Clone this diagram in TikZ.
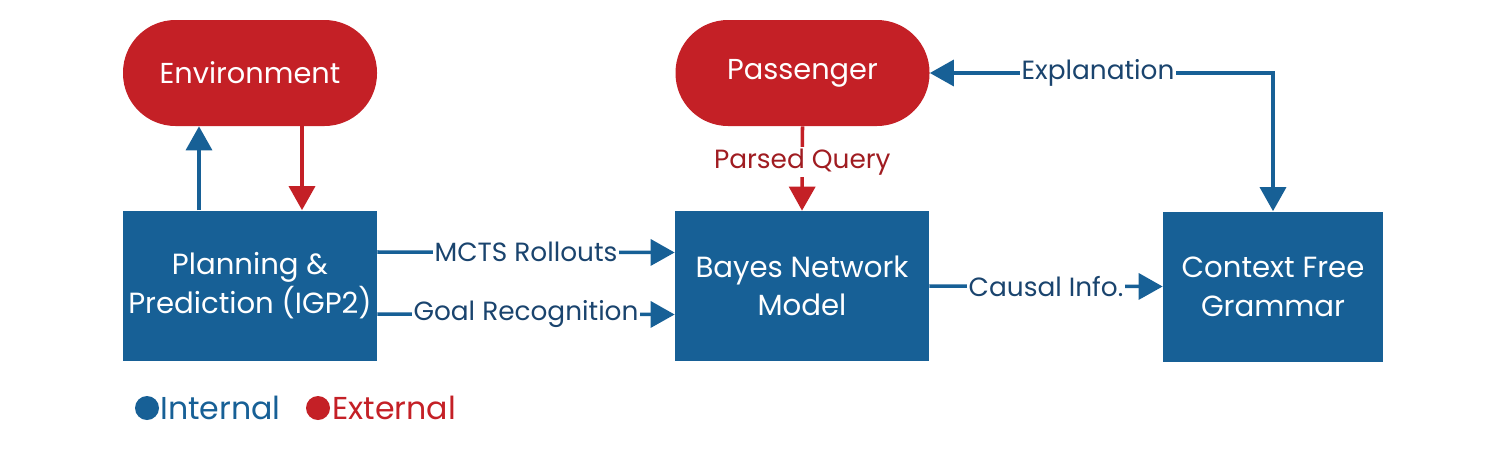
\documentclass[tikz,border=0pt]{standalone}
\usepackage{fontspec}
\setmainfont{Poppins}
\usetikzlibrary{arrows.meta,positioning}
\definecolor{intblue}{RGB}{23,96,150}
\definecolor{extred}{RGB}{196,32,38}
\definecolor{lblblue}{RGB}{26,68,110}
\definecolor{lblred}{RGB}{160,28,33}
\tikzset{
  extnode/.style={fill=extred, text=white, rounded corners=1.05cm, minimum width=5.08cm,
    minimum height=2.12cm, font=\fontsize{16.4}{19}\selectfont},
  intnode/.style={fill=intblue, text=white, minimum height=3cm, align=center, inner sep=0pt,
    font=\fontsize{16.6}{22}\selectfont},
  flow/.style={line width=2pt, -{Triangle[width=0.52cm,length=0.48cm]}},
  lbl/.style={fill=white, inner sep=1pt, font=\fontsize{15}{18}\selectfont},
}
\begin{document}
\begin{tikzpicture}
    \useasboundingbox (0,0) rectangle (30.06,9.34);
    % red: outside the car
    \node[extnode] (env) at (5.00,7.88) {Environment};
    \node[extnode] (pass) at (16.05,7.88) {Passenger};
    % blue: inside
    \node[intnode, minimum width=5.08cm] (plan) at (5.00,3.63) {Planning \&\\Prediction (IGP2)};
    \node[intnode, minimum width=5.08cm] (bayes) at (16.04,3.62) {Bayes Network\\Model};
    \node[intnode, minimum width=4.40cm] (cfg) at (25.46,3.61) {Context Free\\Grammar};
    \draw[flow, intblue] ([xshift=-1.02cm]plan.north) -- ([xshift=-1.02cm]env.south);
    \draw[flow, extred] ([xshift=1.04cm]env.south) -- ([xshift=1.04cm]plan.north);
    \draw[flow, intblue] ([yshift=0.67cm]plan.east) -- node[lbl, text=lblblue] (mcts) {MCTS Rollouts} ([yshift=0.67cm]bayes.west);
    \draw[flow, intblue] ([yshift=-0.57cm]plan.east) -- node[lbl, text=lblblue] (goal) {Goal Recognition} ([yshift=-0.57cm]bayes.west);
    \draw[flow, intblue] (bayes.east) -- node[lbl, text=lblblue] (causal) {Causal Info.} (cfg.west);
    \draw[flow, extred] (pass.south) -- node[lbl, text=lblred, pos=0.42] (query) {Parsed Query} (bayes.north);
    \draw[flow, intblue, {Triangle[width=0.52cm,length=0.48cm]}-{Triangle[width=0.52cm,length=0.48cm]}]
      (pass.east) -| node[lbl, text=lblblue, pos=0.245] (expl) {Explanation} (cfg.north);
    % legend
    \fill[intblue] (2.94,1.18) circle (0.24);
    \node[anchor=west, inner sep=0pt, text=intblue, font=\fontsize{18}{21}\selectfont] (internal) at (3.20,1.18) {Internal};
    \fill[extred] (6.36,1.18) circle (0.24);
    \node[anchor=west, inner sep=0pt, text=extred, font=\fontsize{18}{21}\selectfont] (external) at (6.64,1.18) {External};
\end{tikzpicture}
\end{document}
